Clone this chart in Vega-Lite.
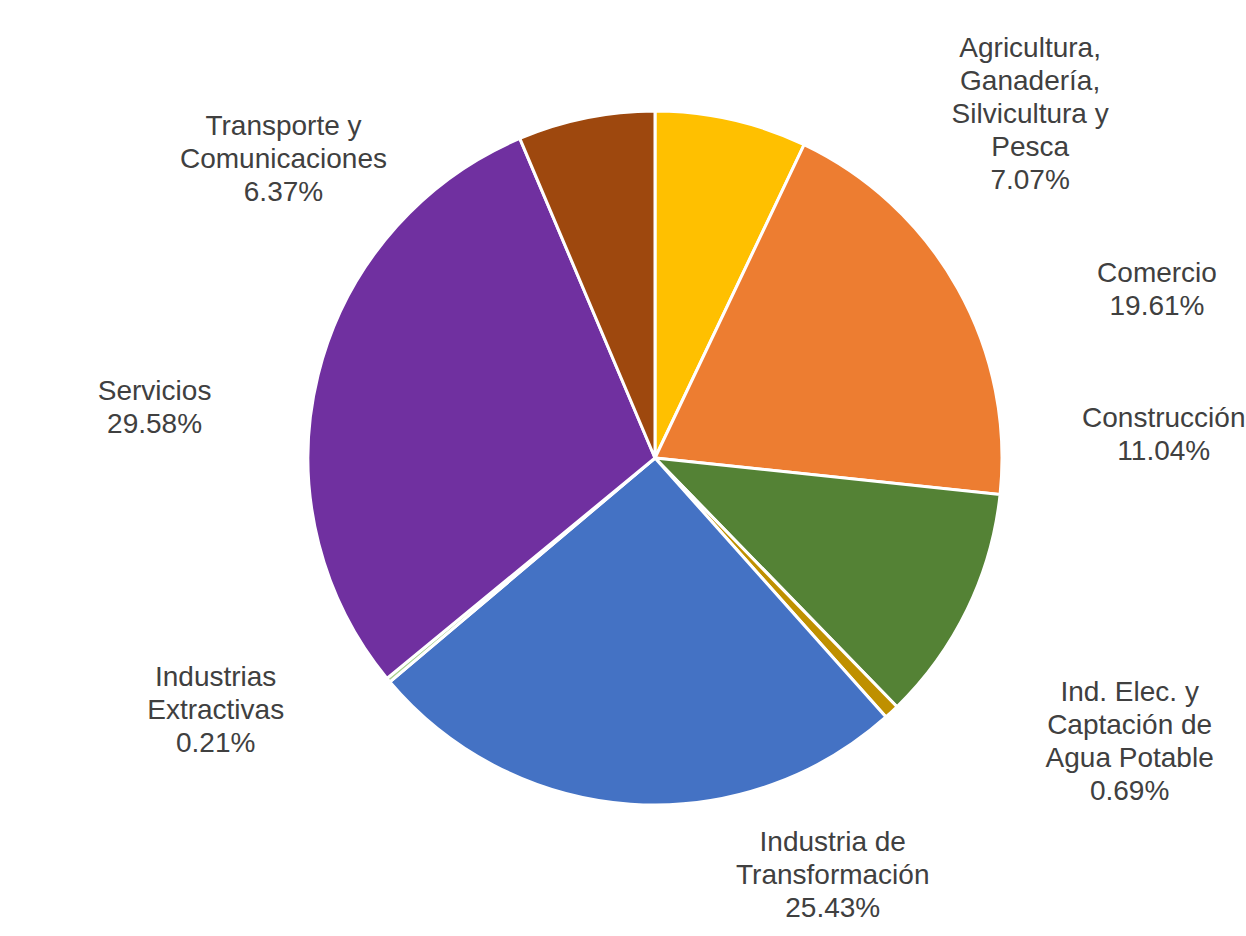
{
  "$schema": "https://vega.github.io/schema/vega-lite/v6.json",
  "width": 1310,
  "height": 916,
  "autosize": {"type": "none"},
  "padding": {"top": 0, "left": 0, "right": 0, "bottom": 20},
  "background": "white",
  "config": {
    "view": {"stroke": null},
    "text": {"font": "Liberation Sans", "fontSize": 28, "lineHeight": 33, "color": "#404040", "lineBreak": "\n", "align": "center", "baseline": "middle"}
  },
  "data": {
    "values": [
      {"orden": 1, "sector": "Agricultura, Ganadería, Silvicultura y Pesca", "valor": 7.07, "texto": "Agricultura,\nGanadería,\nSilvicultura y\nPesca\n7.07%"},
      {"orden": 2, "sector": "Comercio", "valor": 19.61, "texto": "Comercio\n19.61%"},
      {"orden": 3, "sector": "Construcción", "valor": 11.04, "texto": "Construcción\n11.04%"},
      {"orden": 4, "sector": "Ind. Elec. y Captación de Agua Potable", "valor": 0.69, "texto": "Ind. Elec. y\nCaptación de\nAgua Potable\n0.69%"},
      {"orden": 5, "sector": "Industria de Transformación", "valor": 25.43, "texto": "Industria de\nTransformación\n25.43%"},
      {"orden": 6, "sector": "Industrias Extractivas", "valor": 0.21, "texto": "Industrias\nExtractivas\n0.21%"},
      {"orden": 7, "sector": "Servicios", "valor": 29.58, "texto": "Servicios\n29.58%"},
      {"orden": 8, "sector": "Transporte y Comunicaciones", "valor": 6.37, "texto": "Transporte y\nComunicaciones\n6.37%"}
    ]
  },
  "encoding": {
    "theta": {"field": "valor", "type": "quantitative", "stack": true},
    "order": {"field": "orden", "type": "quantitative"}
  },
  "layer": [
    {
      "mark": {"type": "arc", "outerRadius": 347, "stroke": "white", "strokeWidth": 3},
      "encoding": {
        "color": {
          "field": "sector",
          "type": "nominal",
          "legend": null,
          "scale": {
            "domain": ["Agricultura, Ganadería, Silvicultura y Pesca", "Comercio", "Construcción", "Ind. Elec. y Captación de Agua Potable", "Industria de Transformación", "Industrias Extractivas", "Servicios", "Transporte y Comunicaciones"],
            "range": ["#FFC000", "#ED7D31", "#548235", "#BF9000", "#4472C4", "#A9D18E", "#7030A0", "#9E480E"]
          }
        }
      }
    },
    {
      "mark": {"type": "text", "dx": 287, "dy": -19},
      "encoding": {"radius": {"value": 400}, "text": {"condition": {"test": "datum.orden === 1", "field": "texto"}, "value": ""}}
    },
    {
      "mark": {"type": "text", "dx": 153, "dy": 11},
      "encoding": {"radius": {"value": 400}, "text": {"condition": {"test": "datum.orden === 2", "field": "texto"}, "value": ""}}
    },
    {
      "mark": {"type": "text", "dx": 149, "dy": -214},
      "encoding": {"radius": {"value": 400}, "text": {"condition": {"test": "datum.orden === 3", "field": "texto"}, "value": ""}}
    },
    {
      "mark": {"type": "text", "dx": 202, "dy": -58},
      "encoding": {"radius": {"value": 400}, "text": {"condition": {"test": "datum.orden === 4", "field": "texto"}, "value": ""}}
    },
    {
      "mark": {"type": "text", "dx": 206, "dy": -14},
      "encoding": {"radius": {"value": 400}, "text": {"condition": {"test": "datum.orden === 5", "field": "texto"}, "value": ""}}
    },
    {
      "mark": {"type": "text", "dx": -132, "dy": -36},
      "encoding": {"radius": {"value": 400}, "text": {"condition": {"test": "datum.orden === 6", "field": "texto"}, "value": ""}}
    },
    {
      "mark": {"type": "text", "dx": -112, "dy": 30},
      "encoding": {"radius": {"value": 400}, "text": {"condition": {"test": "datum.orden === 7", "field": "texto"}, "value": ""}}
    },
    {
      "mark": {"type": "text", "dx": -292, "dy": 61},
      "encoding": {"radius": {"value": 400}, "text": {"condition": {"test": "datum.orden === 8", "field": "texto"}, "value": ""}}
    }
  ]
}
